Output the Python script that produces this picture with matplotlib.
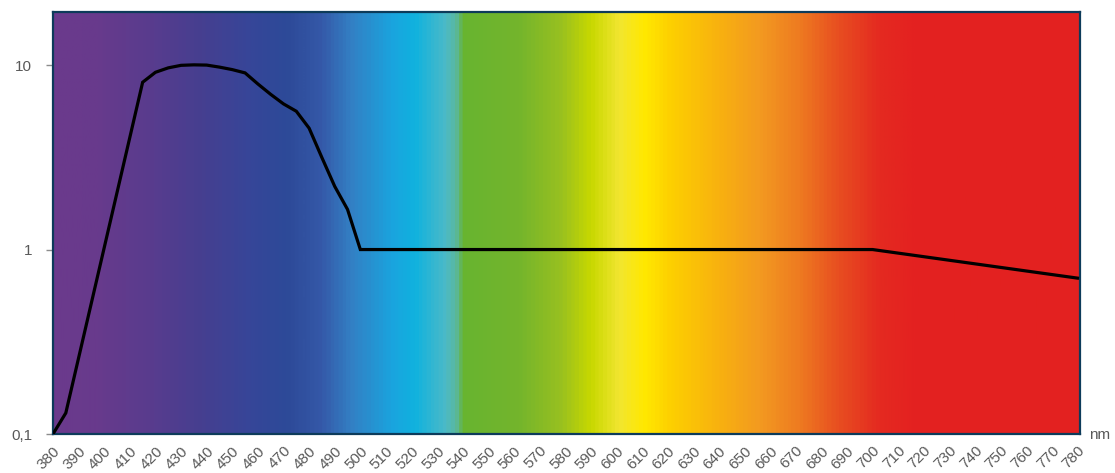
import numpy as np
import matplotlib.pyplot as plt
from matplotlib.colors import LinearSegmentedColormap

plt.rcParams['font.family'] = ['Liberation Sans', 'DejaVu Sans']

# wavelength (nm) and relative value
wavelength = [380, 385, 415, 420, 425, 430, 435, 440, 445, 450, 455, 460, 465,
              470, 475, 480, 485, 490, 495, 500, 700, 780]
value = [0.1, 0.13, 8.07, 9.14, 9.66, 9.97, 10.03, 10.0, 9.75, 9.45, 9.07, 7.9,
         6.94, 6.16, 5.62, 4.55, 3.15, 2.2, 1.65, 1.0, 1.0, 0.7]

x_ticks = list(range(380, 781, 10))
y_ticks = [0.1, 1, 10]
y_labels = ["0,1", "1", "10"]

# background spectrum colours
spec_nm = [380, 396, 418, 437, 457, 471, 484, 496, 512, 521, 533, 537, 540, 562,
           578, 590, 601, 611, 621, 641, 656, 672, 687, 703, 715, 781]
spec_col = ["#6b3a8c", "#683a8c", "#583c8e", "#463f90", "#364699", "#2d4a98",
            "#3558a8", "#3380c4", "#1aa4de", "#10b2de", "#4cbac8", "#5ab89c",
            "#68b430", "#74b52c", "#98c020", "#c8d800", "#f2e630", "#ffe800",
            "#fdd000", "#f8b010", "#f39a20", "#ee7a20", "#e84e20", "#e42a20",
            "#e42220", "#e32120"]

lo, hi = 380, 781
stops = [(w - lo) / (hi - lo) for w in spec_nm]
cmap = LinearSegmentedColormap.from_list("spec", list(zip(stops, spec_col)))

fig = plt.figure(figsize=(11.15, 4.73), dpi=100)
ax = fig.add_axes([53 / 1115, 39 / 473, 1027 / 1115, 422 / 473])

ymin, ymax = 0.1, 19.4
grad = np.linspace(0, 1, 1200).reshape(1, -1)
ax.imshow(grad, cmap=cmap, aspect="auto", extent=[lo, hi, ymin, ymax],
          interpolation="bilinear", zorder=0)

ax.plot(wavelength, value, color="black", lw=2.3, zorder=3,
        solid_joinstyle="miter")

ax.set_yscale("log")
ax.set_xlim(lo, hi)
ax.set_ylim(ymin, ymax)
ax.set_yticks(y_ticks)
ax.set_yticklabels(y_labels)
ax.yaxis.set_minor_locator(plt.NullLocator())
ax.set_xticks(x_ticks)
ax.set_xticklabels([str(t) for t in x_ticks], rotation=45, ha="right",
                   va="top", rotation_mode="anchor")

ax.tick_params(axis="x", length=0, pad=7, labelsize=11, labelcolor="#595959")
ax.tick_params(axis="y", length=5, width=1, color="#8c8c8c", pad=10,
               labelsize=11, labelcolor="#595959")

for s in ax.spines.values():
    s.set_color("#0d3b5a")
    s.set_linewidth(1.6)

fig.text(1100 / 1115, 1 - 435 / 473, "nm", ha="center", va="center",
         fontsize=11, color="#595959")

fig.savefig("out.png", dpi=100)
